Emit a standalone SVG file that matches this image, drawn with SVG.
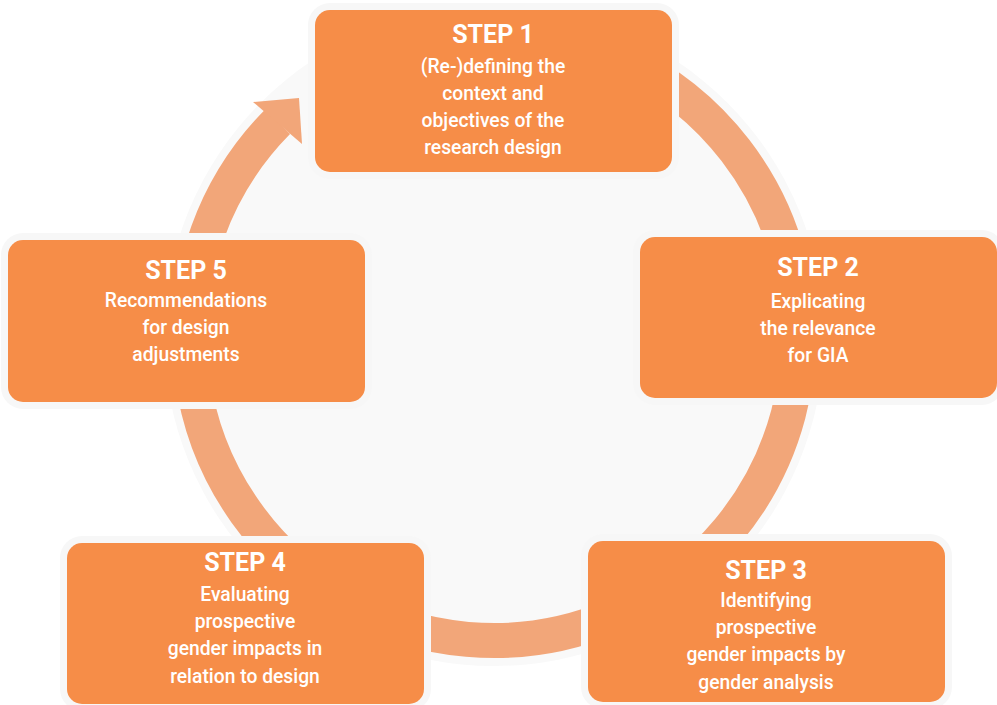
<svg xmlns="http://www.w3.org/2000/svg" width="997" height="705" viewBox="0 0 997 705">
<style>
.halo{fill:#F7F7F7}
.box{fill:#F68D48}
.ring{fill:none;stroke:#F2A679;stroke-width:35}
.head{fill:#F2A679}
text{fill:#FFFFFF;font-family:Roboto,"Liberation Sans",sans-serif;text-anchor:middle}
.t{font-size:25px;font-weight:700}
.b{font-size:19.3px;font-weight:500}
</style>
<rect width="997" height="705" fill="#FFFFFF"/>
<circle cx="494" cy="336" r="330" fill="#F9F9F9"/>
<g id="connectors">
<path class="ring" d="M494 31.5 A304.5 304.5 0 1 1 277.6 121.8"/>
<polygon class="head" points="253,102 299,98 302,144"/>
</g>
<g id="step1">
<rect class="halo" x="308" y="3" width="371" height="176" rx="22"/>
<rect class="box" x="315" y="10" width="357" height="162" rx="15"/>
<text class="t" x="493" y="43">STEP 1</text>
<text class="b" x="493" y="73">(Re-)defining the</text>
<text class="b" x="493" y="100">context and</text>
<text class="b" x="493" y="127">objectives of the</text>
<text class="b" x="493" y="154">research design</text>
</g>
<g id="step2">
<rect class="halo" x="633" y="230" width="371" height="175" rx="22"/>
<rect class="box" x="640" y="237" width="357" height="161" rx="15"/>
<text class="t" x="818" y="276">STEP 2</text>
<text class="b" x="818" y="308">Explicating</text>
<text class="b" x="818" y="335">the relevance</text>
<text class="b" x="818" y="362">for GIA</text>
</g>
<g id="step3">
<rect class="halo" x="581" y="534" width="371" height="175" rx="22"/>
<rect class="box" x="588" y="541" width="357" height="161" rx="15"/>
<text class="t" x="766" y="579">STEP 3</text>
<text class="b" x="766" y="607">Identifying</text>
<text class="b" x="766" y="634">prospective</text>
<text class="b" x="766" y="661">gender impacts by</text>
<text class="b" x="766" y="689">gender analysis</text>
</g>
<g id="step4">
<rect class="halo" x="60" y="536" width="371" height="175" rx="22"/>
<rect class="box" x="67" y="543" width="357" height="161" rx="15"/>
<text class="t" x="245" y="571">STEP 4</text>
<text class="b" x="245" y="601">Evaluating</text>
<text class="b" x="245" y="628">prospective</text>
<text class="b" x="245" y="655">gender impacts in</text>
<text class="b" x="245" y="683">relation to design</text>
</g>
<g id="step5">
<rect class="halo" x="1" y="233" width="371" height="176" rx="22"/>
<rect class="box" x="8" y="240" width="357" height="162" rx="15"/>
<text class="t" x="186" y="279">STEP 5</text>
<text class="b" x="186" y="307">Recommendations</text>
<text class="b" x="186" y="334">for design</text>
<text class="b" x="186" y="361">adjustments</text>
</g>
</svg>
